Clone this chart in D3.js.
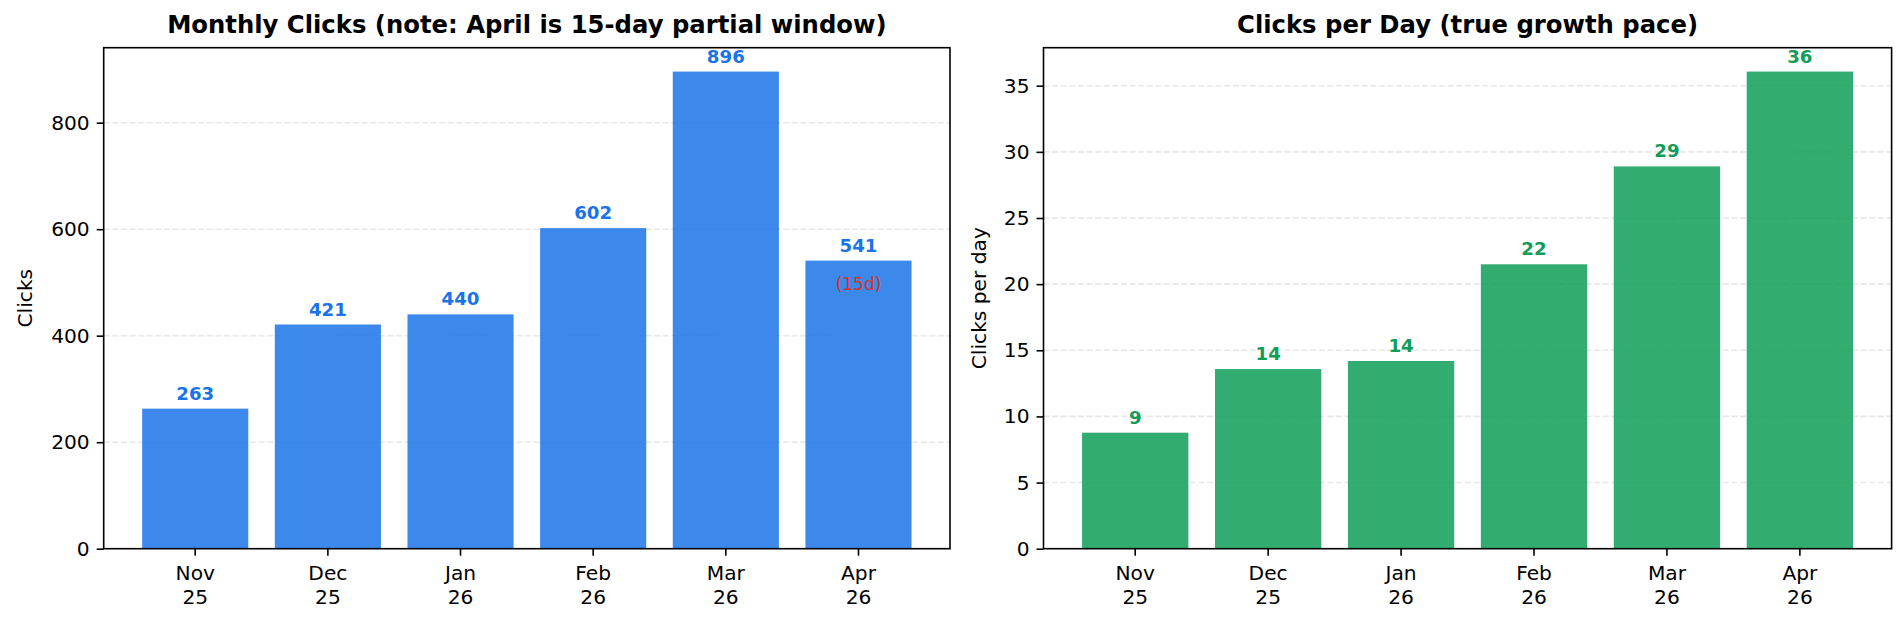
<!DOCTYPE html>
<html>
<head>
<meta charset="utf-8">
<script src="https://cdn.jsdelivr.net/npm/d3@7"></script>
<style>
  body { margin: 0; background: #fff; }
  svg { display: block; font-family: "DejaVu Sans", sans-serif; }
</style>
</head>
<body>
<div id="chart"></div>
<script>
// data
var monthNames = ["Nov", "Dec", "Jan", "Feb", "Mar", "Apr"];
var yearLabels = ["25", "25", "26", "26", "26", "26"];
var clicks = [263, 421, 440, 602, 896, 541];
var clicksPerDay = [8.77, 13.58, 14.19, 21.50, 28.90, 36.07];
var clickTicks = [0, 200, 400, 600, 800];
var perDayTicks = [0, 5, 10, 15, 20, 25, 30, 35];
var partialNote = "(15d)";

var W = 1904, H = 624;
var svg = d3.select("#chart").append("svg")
    .attr("width", W)
    .attr("height", H);

var top_ = 47.7, bottom_ = 548.7;

var panels = [
    {
        left: 103.7, right: 950,
        values: clicks,
        ticks: clickTicks,
        title: "Monthly Clicks (note: April is 15-day partial window)",
        ylabel: "Clicks",
        ylabelX: 32,
        fill: "#1a73e8",
        labelColor: "#1a73e8",
        fmt: d3.format("d"),
        note: true
    },
    {
        left: 1043.5, right: 1891.6,
        values: clicksPerDay,
        ticks: perDayTicks,
        title: "Clicks per Day (true growth pace)",
        ylabel: "Clicks per day",
        ylabelX: 986,
        fill: "#0f9d58",
        labelColor: "#0f9d58",
        fmt: d3.format(".0f"),
        note: false
    }
];

panels.forEach(function (p) {
    var g = svg.append("g");

    var x = d3.scaleBand()
        .domain(d3.range(monthNames.length))
        .range([p.left, p.right])
        .paddingInner(0.2)
        .paddingOuter(0.29);

    var y = d3.scaleLinear()
        .domain([0, d3.max(p.values) * 1.05])
        .range([bottom_, top_]);

    // grid
    g.selectAll(".grid")
        .data(p.ticks.slice(1))
        .enter().append("line")
        .attr("x1", p.left)
        .attr("x2", p.right)
        .attr("y1", function (d) { return y(d); })
        .attr("y2", function (d) { return y(d); })
        .attr("stroke", "#b0b0b0")
        .attr("stroke-opacity", 0.3)
        .attr("stroke-width", 1.6)
        .attr("stroke-dasharray", "6,2.6");

    // bars
    g.selectAll(".bar")
        .data(p.values)
        .enter().append("rect")
        .attr("x", function (d, i) { return x(i); })
        .attr("y", function (d) { return y(d); })
        .attr("width", x.bandwidth())
        .attr("height", function (d) { return bottom_ - y(d); })
        .attr("fill", p.fill)
        .attr("fill-opacity", 0.85);

    // value labels
    g.selectAll(".val")
        .data(p.values)
        .enter().append("text")
        .attr("x", function (d, i) { return x(i) + x.bandwidth() / 2; })
        .attr("y", function (d) { return y(d) - 9; })
        .attr("text-anchor", "middle")
        .attr("font-size", "18.2px")
        .attr("font-weight", "bold")
        .attr("fill", p.labelColor)
        .text(function (d) { return p.fmt(d); });

    if (p.note) {
        var last = p.values.length - 1;
        g.append("text")
            .attr("x", x(last) + x.bandwidth() / 2)
            .attr("y", y(p.values[last]) + 29)
            .attr("text-anchor", "middle")
            .attr("font-size", "17px")
            .attr("fill", "#d93025")
            .text(partialNote);
    }

    // y axis
    var yAxis = d3.axisLeft(y)
        .tickValues(p.ticks)
        .tickSize(7)
        .tickPadding(7)
        .tickFormat(d3.format("d"));
    var ga = g.append("g")
        .attr("transform", "translate(" + p.left + ",0)")
        .call(yAxis);
    ga.select(".domain").remove();
    ga.selectAll("line").attr("stroke", "#000").attr("stroke-width", 1.6);
    ga.selectAll("text")
        .attr("font-size", "20.2px")
        .attr("font-family", "DejaVu Sans")
        .attr("fill", "#000");

    // x axis
    var xAxis = d3.axisBottom(x)
        .tickSize(7)
        .tickFormat("");
    var gx = g.append("g")
        .attr("transform", "translate(0," + bottom_ + ")")
        .call(xAxis);
    gx.select(".domain").remove();
    gx.selectAll("line").attr("stroke", "#000").attr("stroke-width", 1.6);
    gx.selectAll(".tick").each(function (d) {
        var t = d3.select(this).append("text")
            .attr("text-anchor", "middle")
            .attr("font-size", "20.2px")
            .attr("font-family", "DejaVu Sans")
            .attr("fill", "#000");
        t.append("tspan").attr("x", 0).attr("y", 31.5).text(monthNames[d]);
        t.append("tspan").attr("x", 0).attr("y", 55.5).text(yearLabels[d]);
    });

    // frame
    g.append("rect")
        .attr("x", p.left)
        .attr("y", top_)
        .attr("width", p.right - p.left)
        .attr("height", bottom_ - top_)
        .attr("fill", "none")
        .attr("stroke", "#000")
        .attr("stroke-width", 1.6);

    // title
    g.append("text")
        .attr("x", (p.left + p.right) / 2)
        .attr("y", 33)
        .attr("text-anchor", "middle")
        .attr("font-size", "24.3px")
        .attr("font-weight", "bold")
        .text(p.title);

    // y label
    g.append("text")
        .attr("transform", "translate(" + p.ylabelX + "," + ((top_ + bottom_) / 2) + ") rotate(-90)")
        .attr("text-anchor", "middle")
        .attr("font-size", "20.2px")
        .text(p.ylabel);
});
</script>
</body>
</html>
